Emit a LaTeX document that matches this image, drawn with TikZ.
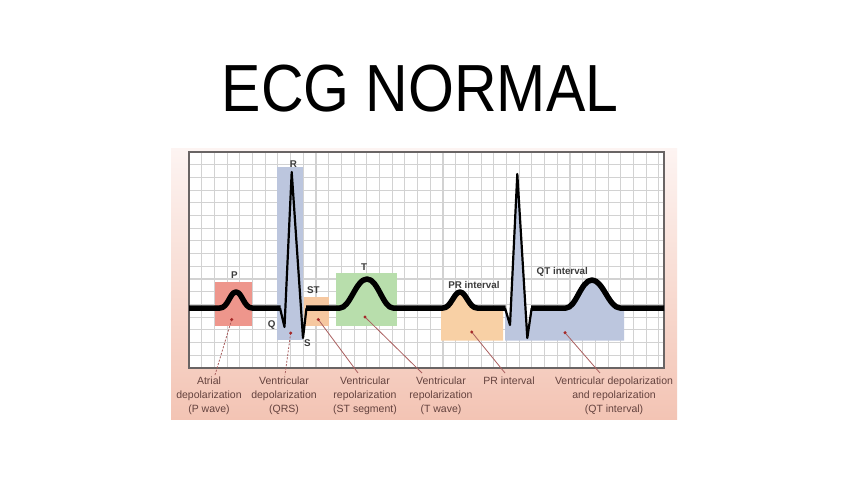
\documentclass[tikz,border=0pt]{standalone}
\usepackage{fontspec}
\setmainfont{Liberation Sans}
\usetikzlibrary{calc}
\definecolor{pinktop}{RGB}{253,244,242}
\definecolor{pinkbot}{RGB}{243,196,180}
\definecolor{gridgray}{RGB}{210,210,210}
\definecolor{bordergray}{RGB}{105,100,100}
\definecolor{pboxc}{RGB}{238,150,140}
\definecolor{qrsboxc}{RGB}{188,198,222}
\definecolor{stboxc}{RGB}{246,200,160}
\definecolor{tboxc}{RGB}{184,222,172}
\definecolor{prboxc}{RGB}{248,208,165}
\definecolor{dotred}{RGB}{165,40,40}
\definecolor{leadc}{RGB}{170,95,95}
\definecolor{labc}{RGB}{100,66,62}
\definecolor{wavelab}{RGB}{60,60,60}
\tikzset{
  gridline/.style={draw=gridgray,line width=1.1},
  ecg/.style={draw=black,line width=5.5,line cap=butt,line join=round},
  qrs/.style={draw=black,line width=2.2,line join=round},
  leader/.style={draw=leadc,line width=0.8},
  leaderdot/.style={leader,dash pattern=on 2pt off 1.5pt},
  bottomlab/.style={font=\fontsize{10.5}{14}\selectfont,text=labc,align=center,inner sep=0pt,anchor=north},
  wlab/.style={font=\fontsize{9.8}{11}\selectfont\bfseries,text=wavelab,inner sep=0pt},
  dotmark/.style={fill=dotred}
}
\begin{document}
\begin{tikzpicture}[x=1pt,y=-1pt]
\useasboundingbox (0,0) rectangle (848,477);
\fill[white] (0,0) rectangle (848,477);
% title
\node[font=\fontsize{59}{60}\selectfont,inner sep=0pt] (title) at (420,89) {\scalebox{1}[1.13]{ECG NORMAL}};
% pink panel
\shade[top color=pinktop,bottom color=pinkbot] (171,148) rectangle (677,419);
% grid
\fill[white] (189,152) rectangle (664,368);
\foreach \i in {1,...,37} \draw[gridline] ({189+12.7*\i},152) -- ({189+12.7*\i},368);
\foreach \j in {1,...,16} \draw[gridline] (189,{152+12.7*\j}) -- (664,{152+12.7*\j});
% boxes
\fill[pboxc] (215,281.7) rectangle (252.3,326);
\fill[qrsboxc] (277.3,166.7) rectangle (302.7,340);
\fill[stboxc] (304.3,296.7) rectangle (329.3,326);
\fill[tboxc] (335.7,272.7) rectangle (396.7,326);
\fill[prboxc] (441,308) -- (443,308) .. controls (451,308) and (454,292) .. (460,292) .. controls (466,292) and (469,308) .. (477,308) -- (503,308) -- (503,340.5) -- (441,340.5) -- cycle;
\fill[qrsboxc] (505,308) -- (510,325) -- (517.3,174) -- (527.3,338) -- (531.7,308) -- (566,308) .. controls (576,308) and (581,280) .. (592,280) .. controls (603,280) and (609,308) .. (620,308) -- (624,308) -- (624,340.5) -- (505,340.5) -- cycle;
% grid border
\draw[draw=bordergray,line width=1.8] (189,152) rectangle (664,368);
% waveform
\draw[ecg] (189,308) -- (220,308) .. controls (228,308) and (230,292) .. (236,292) .. controls (242,292) and (244,308) .. (252,308) -- (280.5,308);
\draw[qrs] (280,308) -- (284.5,327) -- (291.7,172) -- (303,338) -- (306.5,308);
\draw[ecg] (306,308) -- (340,308) .. controls (350,308) and (356,279) .. (367,279) .. controls (378,279) and (383,308) .. (393,308) -- (443,308) .. controls (451,308) and (454,292) .. (460,292) .. controls (466,292) and (469,308) .. (477,308) -- (505.5,308);
\draw[qrs] (505,308) -- (510,325) -- (517.3,174) -- (527.3,338) -- (531.7,308);
\draw[ecg] (531.2,308) -- (566,308) .. controls (576,308) and (581,280) .. (592,280) .. controls (603,280) and (609,308) .. (620,308) -- (664,308);
% wave labels
\node[wlab] (lP) at (234.3,275) {P};
\node[wlab] (lR) at (293.3,164.3) {R};
\node[wlab] (lST) at (313.3,290) {ST};
\node[wlab] (lT) at (364,266.7) {T};
\node[wlab] (lQ) at (271.7,325) {Q};
\node[wlab] (lS) at (307.3,342.7) {S};
\node[wlab] (lPR) at (474,285) {PR interval};
\node[wlab] (lQT) at (562.3,271.7) {QT interval};
% dots
\coordinate (dP) at (231.7,319.5);
\coordinate (dQRS) at (290.7,333);
\coordinate (dST) at (318.3,319.5);
\coordinate (dT) at (365,317);
\coordinate (dPR) at (471.7,332);
\coordinate (dQT) at (565,332.7);
% bottom labels
\node[bottomlab] (la) at (209,377) {Atrial\\depolarization\\(P wave)};
\node[bottomlab] (lb) at (284,377) {Ventricular\\depolarization\\(QRS)};
\node[bottomlab] (lc) at (365,377) {Ventricular\\repolarization\\(ST segment)};
\node[bottomlab] (ld) at (441,377) {Ventricular\\repolarization\\(T wave)};
\node[bottomlab] (le) at (509,377) {PR interval};
\node[bottomlab] (lf) at (614,377) {Ventricular depolarization\\and repolarization\\(QT interval)};
\coordinate (ea) at (215,375);
\coordinate (eb) at (285,375);
\coordinate (ec) at (358,373);
\coordinate (ed) at (422,373);
\coordinate (ee) at (505,373);
\coordinate (ef) at (600,373);
% leaders
\draw[leaderdot] (dP) -- (ea);
\draw[leaderdot] (dQRS) -- (eb);
\draw[leader] (dST) -- (ec);
\draw[leader] (dT) -- (ed);
\draw[leader] (dPR) -- (ee);
\draw[leader] (dQT) -- (ef);
\foreach \d in {dP,dQRS,dST,dT,dPR,dQT} \fill[dotmark] (\d) circle (1.7);
\end{tikzpicture}
\end{document}
